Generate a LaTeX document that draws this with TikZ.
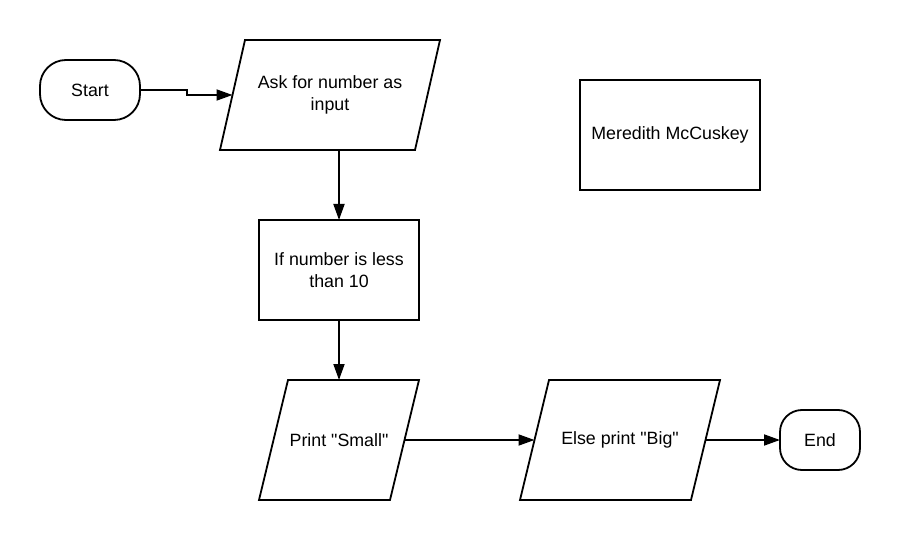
\documentclass[tikz,border=0pt]{standalone}
\usepackage{fontspec}
\setmainfont{Liberation Sans}[Ligatures=TeXOff]
\usetikzlibrary{arrows.meta,calc}
\begin{document}
\begin{tikzpicture}[x=1pt,y=-1pt,
  every node/.style={font=\fontsize{17.8}{22}\selectfont, align=center, inner sep=0pt, outer sep=0pt},
  term/.style={draw, line width=1.8pt, rounded corners=26pt},
  procbox/.style={draw, line width=1.8pt},
  iobox/.style={},
  para/.style={line width=1.8pt, line join=miter},
  conn/.style={line width=1.8pt, -{Triangle[length=16pt,width=11pt]}}
]
\fill[white] (0,0) rectangle (900,540);
\useasboundingbox (0,0) rectangle (900,540);

% nodes
\node[term, minimum width=100pt, minimum height=60pt] (start) at (90,90) {Start};
\node[iobox, minimum width=220pt, minimum height=110pt] (ask) at (330,95) {Ask for number as\\input};
\node[procbox, minimum width=160pt, minimum height=100pt] (ifn) at (339,270) {If number is less\\than 10};
\node[iobox, minimum width=160pt, minimum height=120pt] (small) at (339,440) {Print "Small"};
\node[iobox, minimum width=200pt, minimum height=120pt] (big) at (620,440) {Else print "Big"};
\node[term, rounded corners=22pt, minimum width=80pt, minimum height=60pt] (end) at (820,440) {End};
\node[procbox, minimum width=180pt, minimum height=110pt] (name) at (670,135) {Meredith McCuskey};

% parallelogram outlines
\draw[para] ([xshift=25pt]ask.north west) -- (ask.north east) -- ([xshift=-25pt]ask.south east) -- (ask.south west) -- cycle;
\draw[para] ([xshift=29pt]small.north west) -- (small.north east) -- ([xshift=-29pt]small.south east) -- (small.south west) -- cycle;
\draw[para] ([xshift=29pt]big.north west) -- (big.north east) -- ([xshift=-29pt]big.south east) -- (big.south west) -- cycle;

% connector ends on slanted edges
\coordinate (askw) at ([xshift=12.5pt]ask.west);
\coordinate (asks) at ([xshift=9pt]ask.south);
\coordinate (smalle) at ([xshift=-14.5pt]small.east);
\coordinate (bigw) at ([xshift=14.5pt]big.west);
\coordinate (bige) at ([xshift=-14.5pt]big.east);
\coordinate (bend1) at (187,90);
\coordinate (bend2) at (187,95);

% connectors
\draw[conn] (start.east) -- (bend1) -- (bend2) -- (askw);
\draw[conn] (asks) -- (ifn.north);
\draw[conn] (ifn.south) -- (small.north);
\draw[conn] (smalle) -- (bigw);
\draw[conn] (bige) -- (end.west);
\end{tikzpicture}
\end{document}
